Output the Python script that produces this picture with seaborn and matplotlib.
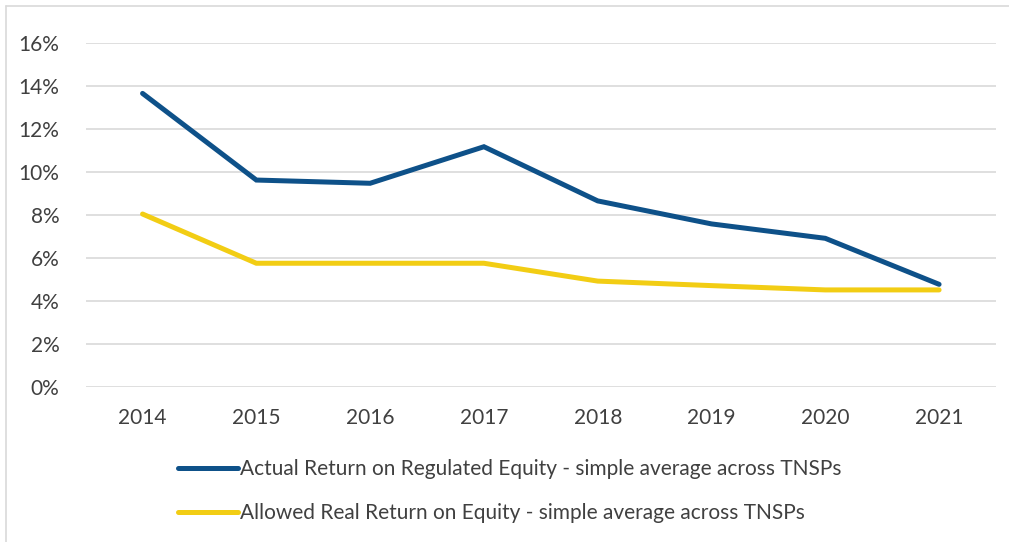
import pandas as pd
import seaborn as sns
import matplotlib
matplotlib.use("Agg")
import matplotlib.pyplot as plt
from matplotlib.lines import Line2D
from matplotlib.ticker import PercentFormatter

years = ["2014", "2015", "2016", "2017", "2018", "2019", "2020", "2021"]
actual_roe = [13.67, 9.64, 9.49, 11.19, 8.67, 7.60, 6.93, 4.79]
allowed_roe = [8.06, 5.77, 5.77, 5.77, 4.94, 4.73, 4.53, 4.53]
series_names = [
    "Actual Return on Regulated Equity - simple average across TNSPs",
    "Allowed Real Return on Equity - simple average across TNSPs",
]
y_ticks = [0, 2, 4, 6, 8, 10, 12, 14, 16]

BLUE = "#0E5189"
YELLOW = "#F2CD14"
TEXT = "#404040"


def build_frame():
    df = pd.DataFrame({"Year": years * 2,
                       "Return": actual_roe + allowed_roe,
                       "Series": [series_names[0]] * len(years) + [series_names[1]] * len(years)})
    return df


def main():
    sns.set_theme(style="white")
    plt.rcParams["font.family"] = ["Lato", "DejaVu Sans"]

    df = build_frame()
    fig = plt.figure(figsize=(10.09, 5.42), dpi=100)
    ax = fig.add_axes([0.0849, 0.2854, 0.9022, 0.6347])

    sns.lineplot(data=df, x="Year", y="Return", hue="Series", sort=False,
                 palette={series_names[0]: BLUE, series_names[1]: YELLOW},
                 linewidth=3.6, ax=ax, legend=False)
    for line in ax.lines:
        line.set_solid_capstyle("round")
        line.set_solid_joinstyle("miter")

    ax.set_xlim(-0.5, len(years) - 0.5)
    ax.set_ylim(0, 16)
    ax.set_yticks(y_ticks)
    ax.yaxis.set_major_formatter(PercentFormatter(decimals=0))
    ax.grid(axis="y", color="#D9D9D9", linewidth=1.2)
    ax.set_axisbelow(True)
    for s in ax.spines.values():
        s.set_visible(False)
    ax.tick_params(axis="both", length=0, labelsize=15, labelcolor=TEXT)
    ax.tick_params(axis="y", pad=19)
    ax.tick_params(axis="x", pad=15)
    ax.set_xlabel("")
    ax.set_ylabel("")

    # legend below the plot, rows at y~469 and y~512 px
    handles = [Line2D([], [], color=BLUE, linewidth=3.6, solid_capstyle="round"),
               Line2D([], [], color=YELLOW, linewidth=3.6, solid_capstyle="round")]
    fig.legend(handles, series_names, loc="upper left",
               bbox_to_anchor=(0.1764, 1 - 459 / 542),
               frameon=False, fontsize=15, labelcolor=TEXT, handlelength=2.9,
               handletextpad=0.1, labelspacing=1.16, borderpad=0, borderaxespad=0)

    # thin frame lines along top and left edges of the screenshot
    fig.add_artist(Line2D([6 / 1009, 1.0], [1 - 6 / 542, 1 - 6 / 542],
                          transform=fig.transFigure, color="#D9D9D9", linewidth=1.2))
    fig.add_artist(Line2D([6 / 1009, 6 / 1009], [0.0, 1 - 6 / 542],
                          transform=fig.transFigure, color="#D9D9D9", linewidth=1.2))

    fig.savefig("out.png", dpi=100, facecolor="white")
    plt.close(fig)


if __name__ == "__main__":
    main()
